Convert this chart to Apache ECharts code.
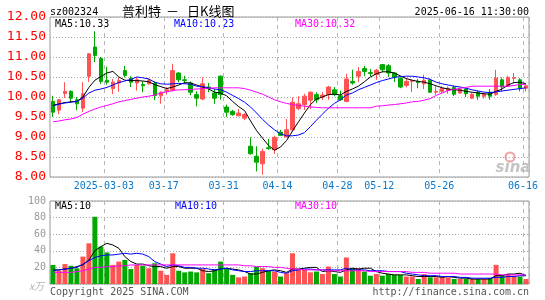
<!DOCTYPE html>
<html><head><meta charset="utf-8">
<script src="https://cdn.jsdelivr.net/npm/echarts@6/dist/echarts.min.js"></script>
<style>html,body{margin:0;padding:0;background:#fff;}#c{width:545px;height:300px;}</style>
</head><body><div id="c"></div>
<script>
// ---- data ----
const dates = [
'02-18','02-19','02-20','02-21','02-24','02-25','02-26','02-27','02-28',
'03-03','03-04','03-05','03-06','03-07','03-10','03-11','03-12','03-13','03-14',
'03-17','03-18','03-19','03-20','03-21','03-24','03-25','03-26','03-27','03-28','03-31',
'04-01','04-02','04-03','04-07','04-08','04-09','04-10','04-11',
'04-14','04-15','04-16','04-17','04-18','04-21','04-22','04-23','04-24','04-25',
'04-28','04-29','04-30','05-06','05-07','05-08','05-09',
'05-12','05-13','05-14','05-15','05-16','05-19','05-20','05-21','05-22','05-23',
'05-26','05-27','05-28','05-29','05-30','06-03','06-04','06-05','06-06',
'06-09','06-10','06-11','06-12','06-13','06-16'];
const opens = [
9.89,9.67,10.09,10.14,9.93,9.72,10.52,11.25,10.96,10.42,
10.21,10.35,10.66,10.47,10.35,10.31,10.33,10.35,10.03,10.14,
10.17,10.60,10.43,10.35,10.06,9.95,10.25,10.10,10.52,9.75,
9.64,9.53,9.47,8.77,8.52,8.33,8.73,8.68,9.12,9.00,
9.18,9.71,9.81,9.92,10.06,10.00,10.06,10.18,10.03,9.89,
10.39,10.52,10.71,10.61,10.56,10.81,10.78,10.60,10.47,10.29,
10.39,10.39,10.33,10.42,10.12,10.14,10.16,10.24,10.10,10.20,
9.97,10.12,10.02,10.12,10.06,10.43,10.27,10.47,10.43,10.22];
const closes = [
9.62,9.93,10.14,9.97,9.83,10.08,11.08,11.04,10.39,10.37,
10.37,10.41,10.54,10.37,10.43,10.28,10.42,10.04,10.12,10.18,
10.66,10.43,10.41,10.12,9.97,10.33,10.22,9.97,10.06,9.62,
9.56,9.60,9.56,8.58,8.37,8.64,8.71,8.99,9.04,9.18,
9.87,9.83,10.02,10.12,9.93,10.05,10.25,10.06,9.93,10.45,
10.35,10.64,10.64,10.59,10.67,10.68,10.60,10.50,10.25,10.39,
10.41,10.36,10.42,10.12,10.14,10.22,10.22,10.07,10.20,10.08,
10.07,10.02,10.07,10.02,10.47,10.25,10.49,10.48,10.21,10.28];
const lows = [
9.50,9.57,9.98,9.88,9.67,9.62,10.38,10.87,10.33,10.31,
10.07,10.13,10.49,10.25,10.16,10.12,10.31,9.92,9.83,10.06,
10.14,10.37,10.33,10.04,9.77,9.92,10.12,9.83,9.93,9.50,
9.53,9.53,9.42,8.56,8.14,8.06,8.68,8.58,9.02,9.00,
9.14,9.67,9.68,9.70,9.85,9.92,9.93,10.02,9.91,9.87,
10.31,10.37,10.52,10.52,10.43,10.62,10.50,10.37,10.22,10.24,
10.12,10.22,10.20,10.10,10.06,10.10,10.08,10.02,10.08,10.00,
9.95,9.93,9.96,9.93,10.03,10.14,10.25,10.35,10.14,10.14];
const highs = [
10.03,9.95,10.37,10.17,10.00,10.37,11.10,11.64,11.00,10.76,
10.45,10.49,10.78,10.52,10.49,10.39,10.47,10.39,10.14,10.25,
10.83,10.62,10.53,10.39,10.14,10.49,10.35,10.20,10.54,9.81,
9.68,9.70,9.60,8.99,8.77,8.71,8.95,9.03,9.18,9.45,
9.99,10.02,10.08,10.14,10.12,10.12,10.28,10.25,10.16,10.58,
10.68,10.75,10.78,10.70,10.70,10.82,10.82,10.62,10.49,10.47,
10.43,10.45,10.56,10.47,10.27,10.27,10.26,10.29,10.22,10.22,
10.10,10.16,10.10,10.20,10.68,10.49,10.53,10.60,10.47,10.35];
const ma5 = [
9.79,9.83,9.86,9.88,9.89,10.00,10.24,10.42,10.51,10.60,
10.64,10.50,10.42,10.41,10.41,10.40,10.38,10.31,10.26,10.21,
10.25,10.30,10.36,10.35,10.30,10.25,10.20,10.12,10.10,10.03,
9.89,9.76,9.66,9.40,9.16,8.97,8.79,8.67,8.75,8.91,
9.15,9.38,9.60,9.81,9.95,10.00,10.06,10.07,10.05,10.14,
10.20,10.27,10.38,10.50,10.58,10.63,10.63,10.60,10.53,10.46,
10.42,10.39,10.37,10.33,10.28,10.23,10.20,10.18,10.17,10.14,
10.12,10.10,10.08,10.07,10.14,10.20,10.30,10.36,10.37,10.33];
const ma10 = [
9.78,9.82,9.85,9.87,9.89,9.97,10.10,10.17,10.20,10.24,
10.30,10.36,10.40,10.44,10.50,10.48,10.45,10.37,10.33,10.32,
10.33,10.34,10.33,10.32,10.27,10.26,10.23,10.20,10.18,10.12,
10.04,9.96,9.87,9.75,9.60,9.44,9.30,9.18,9.08,9.03,
9.03,9.05,9.11,9.26,9.42,9.57,9.72,9.84,9.93,10.05,
10.10,10.18,10.24,10.30,10.36,10.41,10.45,10.49,10.51,10.52,
10.52,10.50,10.48,10.44,10.37,10.33,10.30,10.27,10.25,10.22,
10.18,10.15,10.12,10.11,10.13,10.15,10.17,10.19,10.21,10.23];
const ma30 = [
9.38,9.40,9.43,9.45,9.49,9.57,9.64,9.70,9.75,9.79,
9.83,9.88,9.91,9.94,9.97,10.00,10.02,10.05,10.10,10.13,
10.16,10.18,10.18,10.19,10.20,10.21,10.22,10.23,10.23,10.23,
10.23,10.23,10.21,10.17,10.12,10.07,10.00,9.93,9.88,9.84,
9.81,9.79,9.77,9.75,9.74,9.73,9.73,9.73,9.73,9.73,
9.73,9.73,9.73,9.73,9.77,9.78,9.80,9.81,9.83,9.85,
9.88,9.89,9.92,9.96,10.04,10.10,10.16,10.19,10.22,10.24,
10.27,10.27,10.27,10.27,10.27,10.27,10.27,10.29,10.31,10.32];
const volumes = [
23,16,24,22,19,33,49,81,45,38,
23,27,29,18,23,22,19,25,16,11,
37,16,14,15,14,18,13,18,27,19,
11,8,9,13,21,19,16,15,9,13,
37,17,17,14,15,12,21,12,9,32,
19,19,15,10,12,10,12,11,11,9,
9,6,12,8,8,8,8,6,6,6,
6,6,6,7,23,10,12,10,9,6];
const volMa5 = [
17,17,18,19,21,23,29,40,45,49,
47,43,33,27,24,24,22,21,21,19,
21,21,19,19,19,16,15,16,18,19,
18,17,15,12,12,14,16,17,16,14,
18,18,19,20,20,15,16,15,14,17,
19,18,19,19,15,13,12,11,11,11,
10,9,9,9,9,8,9,8,7,7,
6,6,6,6,10,10,12,12,13,10];
const volMa10 = [
16,17,18,19,20,24,28,32,34,35,
35,36,37,36,37,36,33,27,24,21,
23,22,20,20,19,19,18,17,18,19,
17,16,15,15,16,16,16,16,14,13,
16,17,18,18,17,17,17,17,17,19,
17,17,17,16,16,16,15,15,15,13,
12,11,10,10,10,9,9,9,8,8,
7,7,7,7,8,8,9,9,10,10];
const volMa30 = [
14,14,14,14,15,16,18,20,20,21,
21,22,22,23,23,23,23,23,23,23,
23,23,23,23,23,23,23,23,23,23,
23,23,22,22,21,21,21,20,20,19,
18,18,17,17,17,17,16,16,16,16,
16,16,16,15,15,15,15,15,15,15,
14,14,14,13,13,13,13,13,12,12,
12,12,12,12,12,11,11,11,11,11];
const tickDates  = ['03-03','03-17','03-31','04-14','04-28','05-12','05-26','06-16'];
const tickLabels = ['2025-03-03','03-17','03-31','04-14','04-28','05-12','05-26','06-16'];

[opens,closes,lows,highs,ma5,ma10,ma30,volumes,volMa5,volMa10,volMa30].forEach((a,k)=>{
  if (a.length !== dates.length) throw new Error('length mismatch '+k+' '+a.length);
});

const RED = '#ff5252', GREEN = '#00a800';
const MONO = '"DejaVu Sans Mono","Liberation Mono",monospace';
const CJK = '"Noto Sans CJK SC"';
const tickIdx = tickDates.map(d => dates.indexOf(d));
const isTick = (i) => tickIdx.indexOf(i) >= 0;

const chart = echarts.init(document.getElementById('c'), null, {renderer:'canvas'});
const vLine = {show:true, interval:(i)=>isTick(i), lineStyle:{color:'#b4b4b4', type:[4,4], width:1}};
const hLine = {show:true, lineStyle:{color:'#a8a8a8', type:[1,2], width:1}};

function txt(x, y, text, fill, opts) {
  return {type:'text', silent:true, style:Object.assign({x:x, y:y, text:text, fill:fill,
    font:'10px '+MONO, textAlign:'left', textVerticalAlign:'middle'}, opts||{})};
}

chart.setOption({
  animation:false,
  backgroundColor:'#fff',
  grid:[
    {left:50, top:17, width:479, height:160, show:true, borderColor:'#999', borderWidth:1},
    {left:50, top:201, width:479, height:83, show:true, borderColor:'#999', borderWidth:1}
  ],
  xAxis:[
    {type:'category', gridIndex:0, data:dates, boundaryGap:true,
     axisLine:{show:false}, axisTick:{show:false},
     axisLabel:{interval:(i)=>isTick(i), formatter:(v,i)=>tickLabels[tickIdx.indexOf(i)] || '',
       color:'#0a78c8', fontFamily:MONO, fontSize:10, margin:4, padding:[0,6,0,0]},
     splitLine:vLine},
    {type:'category', gridIndex:1, data:dates, boundaryGap:true,
     axisLine:{show:false}, axisTick:{show:false}, axisLabel:{show:false},
     splitLine:vLine}
  ],
  yAxis:[
    {type:'value', gridIndex:0, min:8, max:12, interval:0.5,
     axisLine:{show:false}, axisTick:{show:false},
     axisLabel:{color:'#ff0000', fontFamily:MONO, fontSize:13, margin:4, formatter:(v)=>v.toFixed(2)},
     splitLine:hLine},
    {type:'value', gridIndex:1, min:0, max:100, interval:20,
     axisLine:{show:false}, axisTick:{show:false},
     axisLabel:{color:'#999', fontFamily:MONO, fontSize:10, margin:4, formatter:(v)=>v===0?'':String(v)},
     splitLine:hLine}
  ],
  series:[
    {type:'candlestick', xAxisIndex:0, yAxisIndex:0, barWidth:4,
     data:dates.map((d,i)=>[opens[i],closes[i],lows[i],highs[i]]),
     itemStyle:{color:RED, color0:GREEN, borderColor:RED, borderColor0:GREEN, borderWidth:1}},
    {type:'line', xAxisIndex:0, yAxisIndex:0, data:ma5, showSymbol:false, lineStyle:{color:'#000', width:1}},
    {type:'line', xAxisIndex:0, yAxisIndex:0, data:ma10, showSymbol:false, lineStyle:{color:'#0000ff', width:1}},
    {type:'line', xAxisIndex:0, yAxisIndex:0, data:ma30, showSymbol:false, lineStyle:{color:'#ff00ff', width:1}},
    {type:'bar', xAxisIndex:1, yAxisIndex:1, barWidth:5,
     data:volumes.map((v,i)=>({value:v, itemStyle:{color: closes[i]>=opens[i]?RED:GREEN}}))},
    {type:'line', xAxisIndex:1, yAxisIndex:1, data:volMa5, showSymbol:false, lineStyle:{color:'#000', width:1}},
    {type:'line', xAxisIndex:1, yAxisIndex:1, data:volMa10, showSymbol:false, lineStyle:{color:'#0000ff', width:1}},
    {type:'line', xAxisIndex:1, yAxisIndex:1, data:volMa30, showSymbol:false, lineStyle:{color:'#ff00ff', width:1}}
  ],
  graphic:[
    txt(50, 12, 'sz002324', '#000'),
    txt(122, 11, '普利特', '#000', {font:'13px '+CJK}),
    txt(166, 11, '－', '#000', {font:'13px '+CJK}),
    txt(187, 11, '日K线图', '#000', {font:'13px '+CJK}),
    txt(529, 12, '2025-06-16 11:30:00', '#000', {textAlign:'right'}),
    txt(55, 24, 'MA5:10.33', '#000'),
    txt(174, 24, 'MA10:10.23', '#0000ff'),
    txt(295, 24, 'MA30:10.32', '#ff00ff'),
    txt(55, 206, 'MA5:10', '#000'),
    txt(175, 206, 'MA10:10', '#0000ff'),
    txt(295, 206, 'MA30:10', '#ff00ff'),
    txt(44, 286, 'x万', '#b0b0b0', {textAlign:'right', font:'italic 10px '+CJK}),
    txt(50, 292, 'Copyright 2025 SINA.COM', '#555'),
    txt(529, 292, 'http://finance.sina.com.cn', '#555', {textAlign:'right'}),
    {type:'circle', silent:true, shape:{cx:510, cy:157, r:4.5}, style:{fill:'none', stroke:'#f0a0a0', lineWidth:2}},
    txt(513, 168, 'sina', '#c4c4c4', {textAlign:'center', font:'italic bold 15px "DejaVu Sans"'})
  ]
});
</script>
</body></html>
